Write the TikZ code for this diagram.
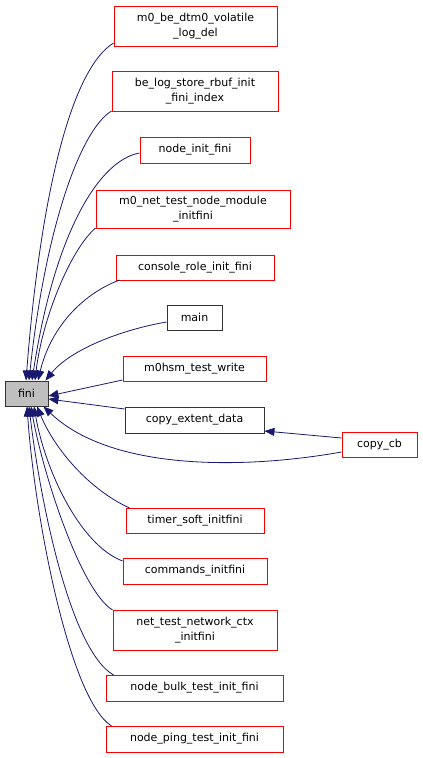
\documentclass[tikz,border=0pt]{standalone}
\usepackage{fontspec}
\setmainfont{DejaVu Sans}
\usetikzlibrary{arrows.meta}
\definecolor{edgeblue}{HTML}{191970}
\definecolor{boxred}{HTML}{FF0000}
\tikzset{
  fn/.style={draw=boxred, fill=white, line width=0.9pt, inner sep=0pt, align=center,
    font=\fontsize{11}{15.5}\selectfont},
  fnblack/.style={fn, draw=black!80},
  fnfini/.style={fn, draw=black!80, fill=black!25},
  edge/.style={draw=edgeblue, line width=0.8pt, -{Triangle[length=10pt,width=8pt]}}
}
\begin{document}
\begin{tikzpicture}[x=1pt,y=-1pt]
\useasboundingbox (0,0) rectangle (423,758);
\node[fnfini, minimum width=43pt, minimum height=25pt] (fini) at (26.5,393.5) {fini};
\node[fn, minimum width=163pt, minimum height=40pt] (n1) at (195.5,26) {m0\_be\_dtm0\_volatile\\\_log\_del};
\node[fn, minimum width=166pt, minimum height=40pt] (n2) at (195,91) {be\_log\_store\_rbuf\_init\\\_fini\_index};
\node[fn, minimum width=110pt, minimum height=26pt] (n3) at (195,150) {node\_init\_fini};
\node[fn, minimum width=194pt, minimum height=38pt] (n4) at (193,209) {m0\_net\_test\_node\_module\\\_initfini};
\node[fn, minimum width=158pt, minimum height=25pt] (n5) at (195,267.5) {console\_role\_init\_fini};
\node[fnblack, minimum width=55pt, minimum height=25pt] (n6) at (194.5,317.5) {main};
\node[fn, minimum width=143pt, minimum height=25pt] (n7) at (194.5,368.5) {m0hsm\_test\_write};
\node[fnblack, minimum width=139pt, minimum height=26pt] (n8) at (194.5,420) {copy\_extent\_data};
\node[fn, minimum width=75pt, minimum height=25pt] (n9) at (379.5,444.5) {copy\_cb};
\node[fn, minimum width=138pt, minimum height=25pt] (n10) at (195,520.5) {timer\_soft\_initfini};
\node[fn, minimum width=144pt, minimum height=26pt] (n11) at (195,571) {commands\_initfini};
\node[fn, minimum width=164pt, minimum height=40pt] (n12) at (195,630) {net\_test\_network\_ctx\\\_initfini};
\node[fn, minimum width=177pt, minimum height=26pt] (n13) at (194.5,688) {node\_bulk\_test\_init\_fini};
\node[fn, minimum width=177pt, minimum height=26pt] (n14) at (194.5,739) {node\_ping\_test\_init\_fini};

\draw[edge] ([yshift=-17pt]n1.west) .. controls (70,70) and (40,200) .. ([xshift=-0.5pt]fini.north);
\draw[edge] ([yshift=-20pt]n2.west) .. controls (80,130) and (45,230) .. ([xshift=2.5pt]fini.north);
\draw[edge] ([yshift=-3pt]n3.west) .. controls (100,160) and (55,230) .. ([xshift=5.5pt]fini.north);
\draw[edge] ([yshift=-19pt]n4.west) .. controls (70,250) and (42,320) .. ([xshift=8.5pt]fini.north);
\draw[edge] ([yshift=-12.5pt,xshift=4pt]n5.west) .. controls (80,295) and (50,330) .. ([xshift=11.5pt]fini.north);
\draw[edge] ([yshift=-4.5pt]n6.west) .. controls (120,330) and (70,350) .. ([xshift=-3pt]fini.north east);
\draw[edge] ([yshift=-11.5pt]n7.west) -- ([yshift=-2.5pt]fini.east);
\draw[edge] ([yshift=11pt]n8.west) -- ([yshift=-5.5pt]fini.east);
\draw[edge] ([yshift=6.5pt]n9.west) -- ([yshift=-11pt]n8.east);
\draw[edge] ([yshift=-7.5pt]n9.west) .. controls (240,470) and (110,470) .. ([xshift=-5pt]fini.south east);
\draw[edge] ([yshift=12.5pt,xshift=4pt]n10.west) .. controls (90,490) and (55,450) .. ([xshift=10.5pt]fini.south);
\draw[edge] ([yshift=10pt]n11.west) .. controls (80,545) and (45,470) .. ([xshift=7.5pt]fini.south);
\draw[edge] ([yshift=20pt]n12.west) .. controls (80,590) and (42,470) .. ([xshift=4.5pt]fini.south);
\draw[edge] ([yshift=13pt,xshift=8pt]n13.west) .. controls (70,650) and (40,500) .. ([xshift=2.5pt]fini.south);
\draw[edge] ([yshift=13pt,xshift=6pt]n14.west) .. controls (70,700) and (35,520) .. ([xshift=0.5pt]fini.south);
\end{tikzpicture}
\end{document}
